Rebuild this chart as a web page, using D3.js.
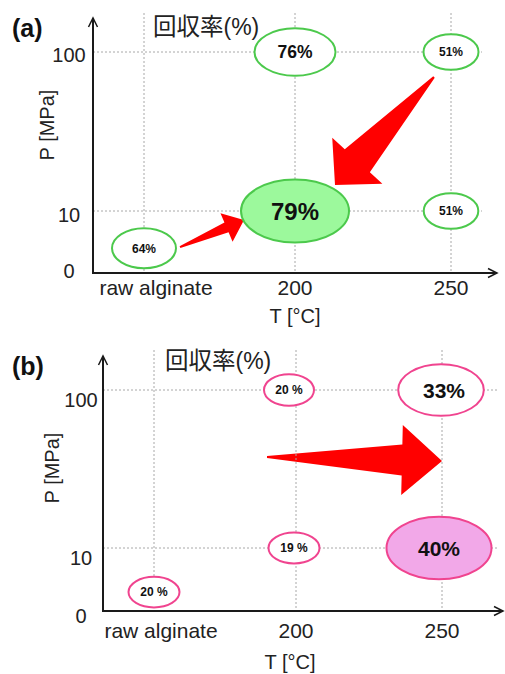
<!DOCTYPE html>
<html><head><meta charset="utf-8">
<script src="https://cdn.jsdelivr.net/npm/d3@7"></script>
<style>
body{margin:0;background:#fff;}
svg{display:block;font-family:"Liberation Sans",Arial,"Noto Sans CJK JP",sans-serif;}
</style></head><body>
<svg id="chart" width="505" height="674"></svg>
<script>
// Axis categories: treatment temperature (x) and pressure ticks (y)
const temperatures = ["raw alginate", "200", "250"];
const pressureTicks = [0, 10, 100];

// Panel (a): recovery (%) for each treatment condition
const condTempA = ["raw alginate", "200", "200", "250", "250"];
const condPressA = [4, 100, 10, 100, 10];
const recoveryA = [64, 76, 79, 51, 51];

// Panel (b): recovery (%) for each treatment condition
const condTempB = ["raw alginate", "200", "200", "250", "250"];
const condPressB = [3, 100, 10, 100, 10];
const recoveryB = [20, 20, 19, 33, 40];

// ---- presentation ----
const bubbleStyleA = [
  {rx: 32, ry: 20, fs: 12, sep: ""},
  {rx: 40.5, ry: 23.7, fs: 17.5, sep: ""},
  {rx: 54, ry: 31.5, fs: 24, sep: ""},
  {rx: 27.5, ry: 17.8, fs: 12, sep: ""},
  {rx: 27.3, ry: 17.8, fs: 12, sep: ""}
];
const bubbleStyleB = [
  {rx: 25.5, ry: 15.3, fs: 12, sep: " "},
  {rx: 25, ry: 15.7, fs: 12, sep: " ", dx: -7},
  {rx: 25.5, ry: 15.5, fs: 12, sep: " ", dx: -2},
  {rx: 42.8, ry: 25.8, fs: 21, sep: "", dx: -1, tdx: 3},
  {rx: 52.5, ry: 31.3, fs: 21, sep: "", dx: -3}
];

const panels = [
  {
    tag: "(a)", temps: condTempA, press: condPressA, rec: recoveryA, style: bubbleStyleA,
    stroke: "#4cc94c", fill: "#9cf99c",
    xRange: [144, 295, 451], yRange: [273, 211, 52],
    axisX: 93, axisTop: 18, axisRight: 497, gridTop: 13, gridRight: 482,
    tagPos: [12, 37], titlePos: [153, 35],
    yTickX: -24, yTickDy: {0: -3, 10: 3, 100: 2.5},
    xTickY: 22, rawDx: 12, xTitle: [295, 323], yTitle: [47, 125],
    arrows: [
      {from: {t: "250", p: 100, dx: -17, dy: 25}, to: {t: "200", p: 10, dx: 40, dy: -26}, head: 33, hw: 34, sw: 17},
      {from: {t: "raw alginate", p: 4, dx: 36, dy: -1}, to: {t: "200", p: 10, dx: -51, dy: 9}, head: 19, hw: 15.5, sw: 5.3}
    ]
  },
  {
    tag: "(b)", temps: condTempB, press: condPressB, rec: recoveryB, style: bubbleStyleB,
    stroke: "#f0448f", fill: "#f2a8e8",
    xRange: [154, 296, 442], yRange: [611, 548, 390],
    axisX: 103, axisTop: 356, axisRight: 503, gridTop: 350, gridRight: 497,
    tagPos: [12, 375], titlePos: [165, 369],
    yTickX: -22, yTickDy: {0: 4, 10: 9, 100: 9},
    xTickY: 27, rawDx: 7, xTitle: [290, 669], yTitle: [52, 468],
    arrows: [
      {from: {t: "200", p: 100, dx: -29, dy: 67}, to: {t: "250", p: 100, dx: 0, dy: 71}, head: 40, hw: 35, sw: 15.5}
    ]
  }
];

const svg = d3.select("#chart");
const ink = "#1a1a1a";

// Tapered block arrow: narrow tail widening towards a triangular head
function blockArrow(T, P, head, hw, sw, tw) {
  const vx = P[0] - T[0], vy = P[1] - T[1];
  const len = Math.hypot(vx, vy);
  const ux = vx / len, uy = vy / len;
  const nx = -uy, ny = ux;
  const B = [P[0] - ux * head, P[1] - uy * head];
  const pts = [
    [T[0] + nx * tw, T[1] + ny * tw],
    [B[0] + nx * sw, B[1] + ny * sw],
    [B[0] + nx * hw, B[1] + ny * hw],
    P,
    [B[0] - nx * hw, B[1] - ny * hw],
    [B[0] - nx * sw, B[1] - ny * sw],
    [T[0] - nx * tw, T[1] - ny * tw]
  ];
  return d3.line()(pts) + "Z";
}

panels.forEach(cfg => {
  const x = d3.scaleOrdinal().domain(temperatures).range(cfg.xRange);
  const y = d3.scaleLinear().domain(pressureTicks).range(cfg.yRange);
  const g = svg.append("g");
  const base = y(0);

  // arrows (beneath the grid)
  cfg.arrows.forEach(a => {
    const T = [x(a.from.t) + a.from.dx, y(a.from.p) + a.from.dy];
    const P = [x(a.to.t) + a.to.dx, y(a.to.p) + a.to.dy];
    g.append("path").attr("d", blockArrow(T, P, a.head, a.hw, a.sw, 1)).attr("fill", "#ff0000");
  });

  // dotted grid
  g.append("g").selectAll("line").data(temperatures).join("line")
    .attr("x1", d => x(d)).attr("x2", d => x(d))
    .attr("y1", cfg.gridTop).attr("y2", base)
    .attr("stroke", "#a8a8a8").attr("stroke-width", 1).attr("stroke-dasharray", "2,2");
  g.append("g").selectAll("line").data(pressureTicks.filter(d => d > 0)).join("line")
    .attr("x1", cfg.axisX).attr("x2", cfg.gridRight)
    .attr("y1", d => y(d)).attr("y2", d => y(d))
    .attr("stroke", "#a8a8a8").attr("stroke-width", 1).attr("stroke-dasharray", "2,2");

  // axis lines with open arrowheads
  const ax = g.append("g").attr("stroke", ink).attr("fill", "none").attr("stroke-width", 2);
  ax.append("line").attr("x1", cfg.axisX).attr("x2", cfg.axisX).attr("y1", base + 1).attr("y2", cfg.axisTop);
  ax.append("line").attr("x1", cfg.axisX - 1).attr("x2", cfg.axisRight).attr("y1", base).attr("y2", base);
  ax.append("path").attr("stroke-width", 1.5)
    .attr("d", `M${cfg.axisX - 4.5},${cfg.axisTop + 9}L${cfg.axisX},${cfg.axisTop}L${cfg.axisX + 4.5},${cfg.axisTop + 9}`);
  ax.append("path").attr("stroke-width", 1.5)
    .attr("d", `M${cfg.axisRight - 9},${base - 4.5}L${cfg.axisRight},${base}L${cfg.axisRight - 9},${base + 4.5}`);

  // y tick labels
  const yAxis = g.append("g").attr("transform", `translate(${cfg.axisX},0)`)
    .call(d3.axisLeft(y).tickValues(pressureTicks).tickSize(0).tickFormat(d3.format("d")));
  yAxis.select(".domain").remove();
  yAxis.selectAll("text")
    .attr("x", cfg.yTickX).attr("dy", d => (cfg.yTickDy[d] + 7) + "px")
    .attr("text-anchor", "middle").attr("font-size", 20)
    .attr("font-family", "Liberation Sans, Arial, sans-serif").attr("fill", "#222");

  // x tick labels
  const xAxis = g.append("g").attr("transform", `translate(0,${base})`)
    .call(d3.axisBottom(d3.scalePoint().domain(temperatures).range([0, 1])).tickSize(0));
  xAxis.select(".domain").remove();
  xAxis.selectAll(".tick").attr("transform", d => `translate(${x(d)},0)`);
  xAxis.selectAll("text")
    .attr("y", cfg.xTickY).attr("dy", 0)
    .attr("dx", d => d === temperatures[0] ? cfg.rawDx : 0)
    .attr("font-size", 21).attr("font-family", "Liberation Sans, Arial, sans-serif").attr("fill", "#222");

  // axis titles
  g.append("text").attr("x", cfg.xTitle[0]).attr("y", cfg.xTitle[1])
    .attr("text-anchor", "middle").attr("font-size", 20).attr("fill", "#222").text("T [°C]");
  g.append("text").attr("transform", `translate(${cfg.yTitle[0]},${cfg.yTitle[1]}) rotate(-90)`)
    .attr("text-anchor", "middle").attr("dy", "0.35em").attr("font-size", 20).attr("fill", "#222").text("P [MPa]");

  // panel tag and heading
  g.append("text").attr("x", cfg.tagPos[0]).attr("y", cfg.tagPos[1])
    .attr("font-size", 25).attr("font-weight", "bold").attr("fill", "#111").text(cfg.tag);
  const head = g.append("text").attr("x", cfg.titlePos[0]).attr("y", cfg.titlePos[1]).attr("fill", "#222");
  head.append("tspan").attr("font-family", "Noto Sans CJK JP, sans-serif").attr("font-size", 23.5).text("回収率");
  head.append("tspan").attr("font-family", "Liberation Sans, Arial, sans-serif").attr("font-size", 23).text("(%)");

  // recovery bubbles; the best condition in each panel is filled
  const best = d3.max(cfg.rec);
  const rows = cfg.rec.map((v, i) => ({v, t: cfg.temps[i], p: cfg.press[i], s: cfg.style[i]}));
  const bub = g.append("g").selectAll("g").data(rows).join("g")
    .attr("transform", d => `translate(${x(d.t) + (d.s.dx || 0)},${y(d.p)})`);
  bub.append("ellipse")
    .attr("rx", d => d.s.rx).attr("ry", d => d.s.ry)
    .attr("fill", d => d.v === best ? cfg.fill : "#fff")
    .attr("stroke", cfg.stroke).attr("stroke-width", 2);
  bub.append("text")
    .attr("x", d => d.s.tdx || 0)
    .attr("text-anchor", "middle").attr("dy", "0.36em")
    .attr("font-size", d => d.s.fs).attr("font-weight", "bold").attr("fill", "#111")
    .text(d => d.v + d.s.sep + "%");
});
</script>
</body></html>
